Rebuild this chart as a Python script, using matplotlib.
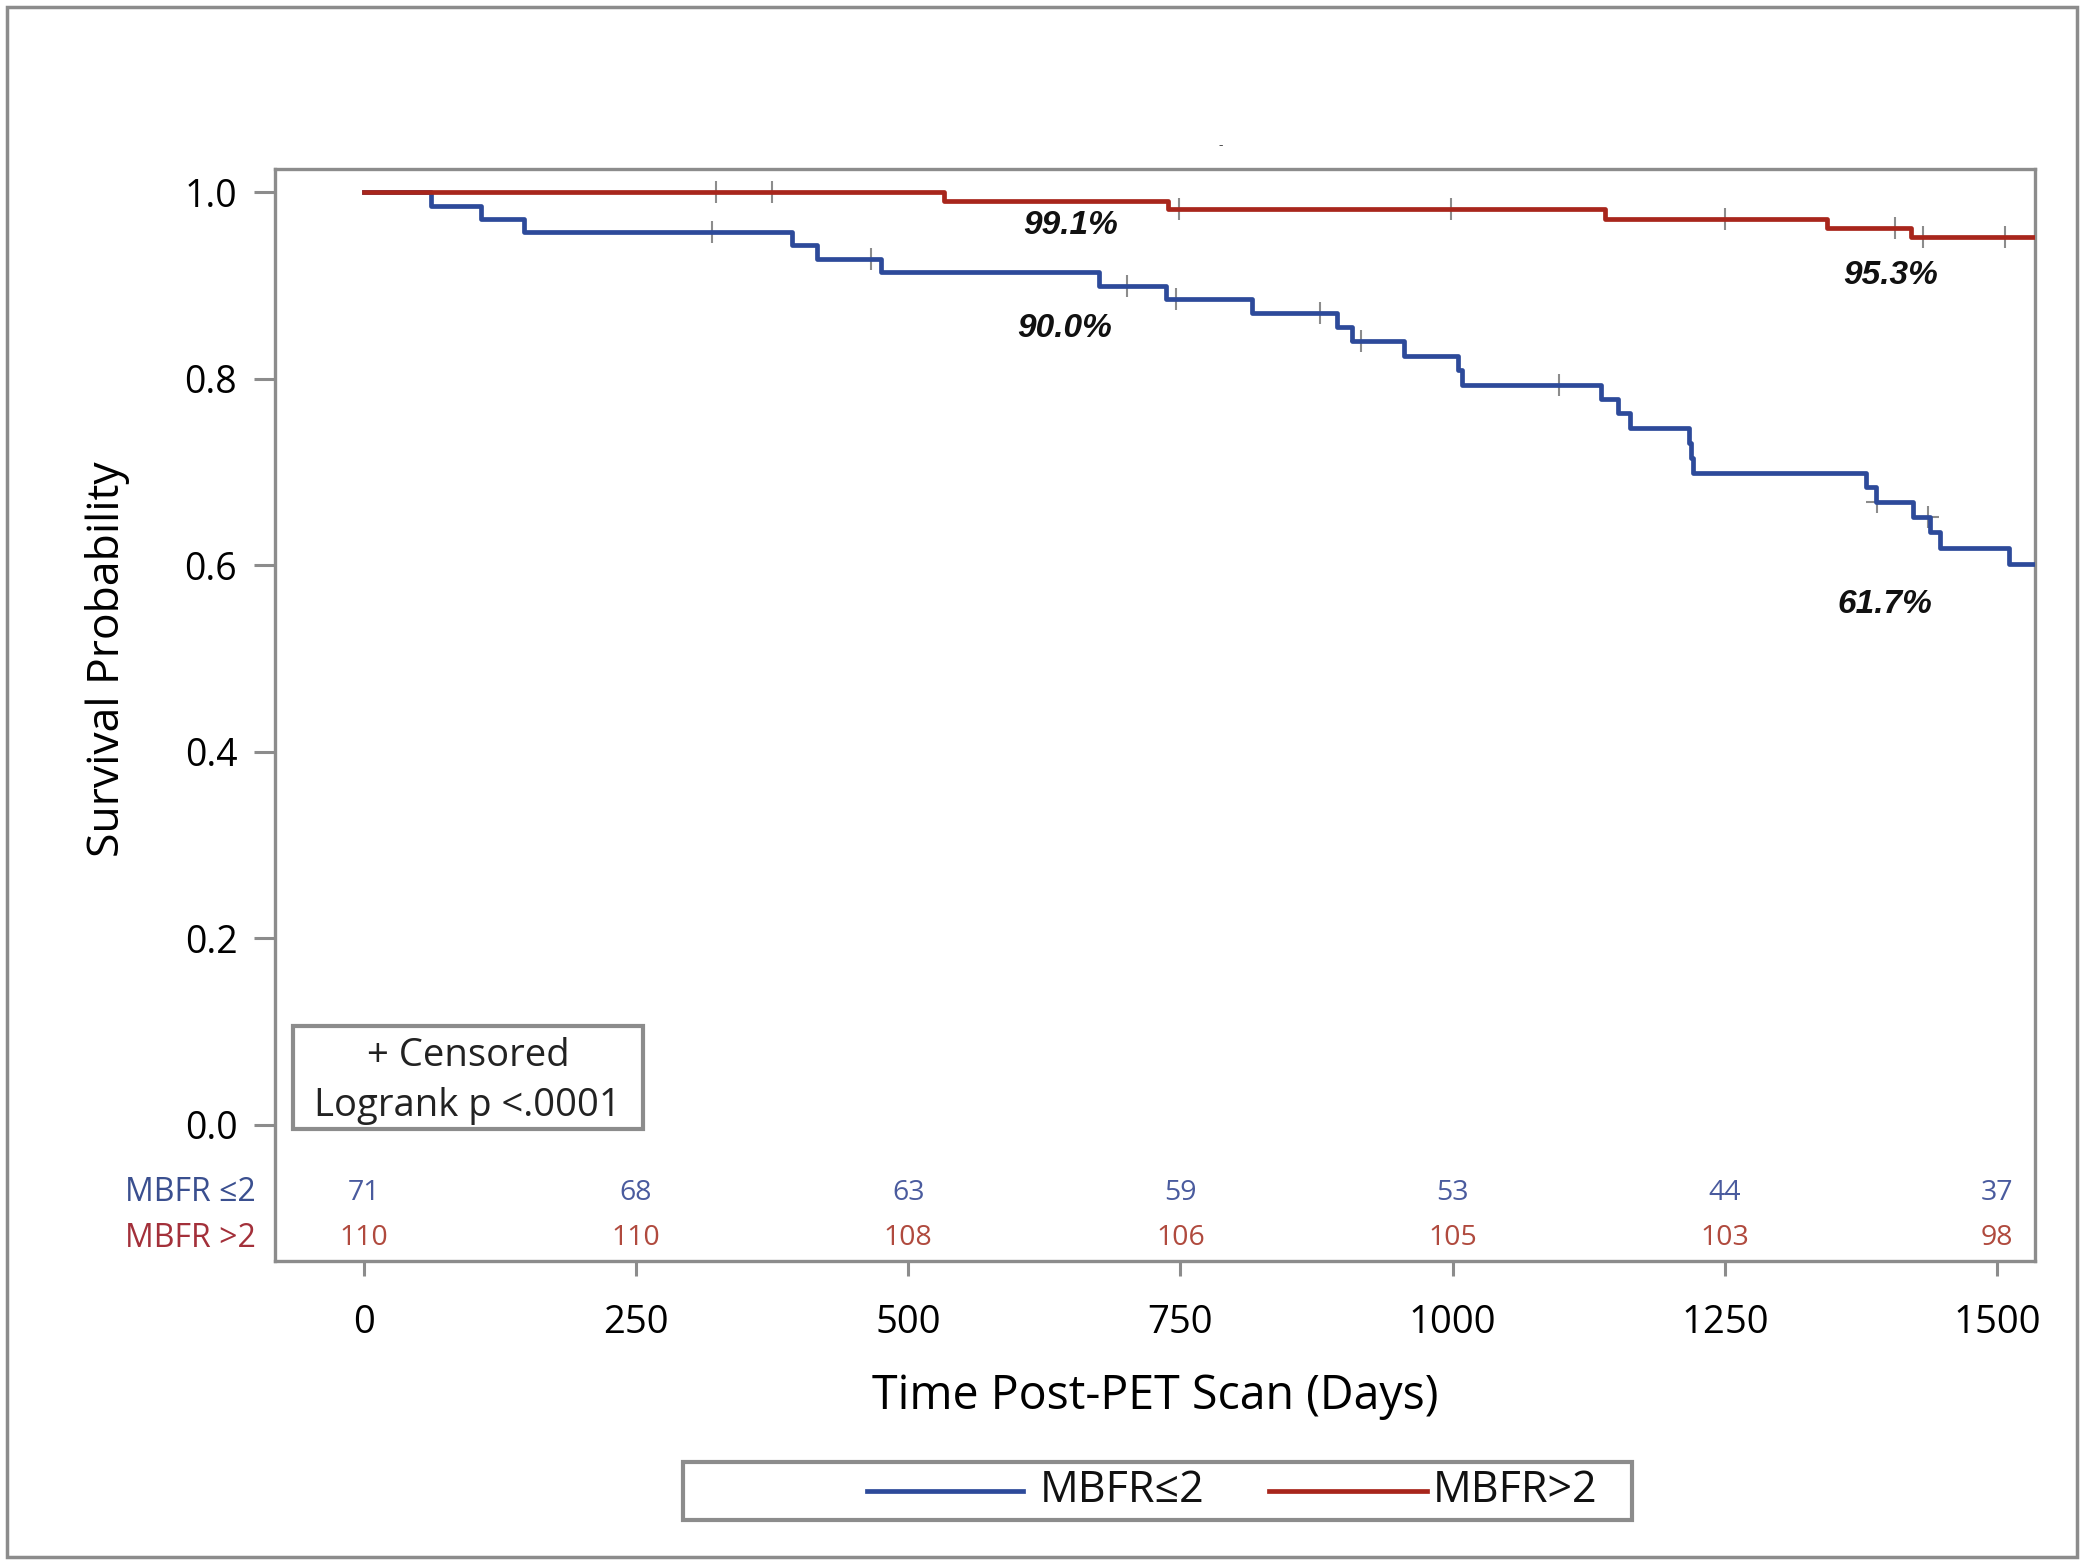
import numpy as np
import matplotlib
matplotlib.use("Agg")
import matplotlib.pyplot as plt
from matplotlib.patches import Rectangle
from matplotlib.lines import Line2D

plt.rcParams['font.family'] = ['Open Sans', 'DejaVu Sans']

# Kaplan-Meier steps (days, survival)
blue_days = [0, 62, 108, 147, 393, 416, 475, 675, 737, 816, 894, 908, 955, 1005, 1009,
             1136, 1152, 1163, 1217, 1219, 1221, 1380, 1389, 1423, 1438, 1448, 1511]
blue_surv = [1.0, 0.986, 0.972, 0.958, 0.944, 0.929, 0.915, 0.900, 0.886, 0.871, 0.856, 0.841,
             0.825, 0.810, 0.794, 0.779, 0.763, 0.747, 0.731, 0.715, 0.699, 0.684, 0.668,
             0.652, 0.636, 0.619, 0.602]
blue_censor = [320, 466, 701, 746, 878, 916, 1098, 1390, 1437]

red_days = [0, 533, 739, 1140, 1344, 1421]
red_surv = [1.0, 0.991, 0.982, 0.972, 0.962, 0.952]
red_censor = [324, 375, 749, 999, 1250, 1406, 1432, 1507]

follow_up_end = 1540

# numbers at risk
risk_days = [0, 250, 500, 750, 1000, 1250, 1500]
blue_risk = [71, 68, 63, 59, 53, 44, 37]
red_risk = [110, 110, 108, 106, 105, 103, 98]

# survival labels: (text, day, survival)
pct_labels = [("99.1%", 649, 0.965), ("90.0%", 644, 0.854),
              ("95.3%", 1402, 0.911), ("61.7%", 1397, 0.558)]

BLUE = '#2d4a9a'
RED = '#a8261c'
GRAY = '#8c8c8c'


def step_value(days, surv, t):
    i = np.searchsorted(days, t, side='right') - 1
    return np.array(surv)[i]


fig = plt.figure(figsize=(20.82, 15.66), dpi=100)
ax = fig.add_axes([0.1320, 0.1948, 0.8456, 0.6976])

for days, surv, cens, col in [(blue_days, blue_surv, blue_censor, BLUE),
                              (red_days, red_surv, red_censor, RED)]:
    ax.step(days + [follow_up_end], surv + [surv[-1]], where='post', color=col, lw=3.4, zorder=3)
    ax.plot(cens, step_value(days, surv, cens), linestyle='none', marker='+',
            markersize=16, mew=1.5, color=GRAY, zorder=2)

for txt, d, s in pct_labels:
    ax.text(d, s, txt, ha='center', va='center', fontsize=24, fontweight='bold',
            fontstyle='italic', family='Liberation Sans', color='#111111')

# censored / logrank box
ax.add_patch(Rectangle((-65, -0.0043), 321.4, 0.1108, fill=False, edgecolor=GRAY, lw=3, zorder=3))
ax.text(95.7, 0.074, "+ Censored", ha='center', va='center', fontsize=27.5, color='#222222')
ax.text(95.7, 0.0205, "Logrank p <.0001", ha='center', va='center', fontsize=27.5, color='#222222')

# at-risk table inside the axes
for d, b, r in zip(risk_days, blue_risk, red_risk):
    ax.text(d, -0.073, str(b), ha='center', va='center', fontsize=20.5, color='#4a5b9e')
    ax.text(d, -0.1215, str(r), ha='center', va='center', fontsize=20.5, color='#b04a3e')
ax.text(-99, -0.073, "MBFR ≤2", ha='right', va='center', fontsize=23, color='#3a4f8f', clip_on=False)
ax.text(-99, -0.1215, "MBFR >2", ha='right', va='center', fontsize=23, color='#a3303a', clip_on=False)

ax.set_xlim(-81.6, 1535.2)
ax.set_ylim(-0.146, 1.0257)
ax.set_xticks(risk_days)
ax.set_yticks([0.0, 0.2, 0.4, 0.6, 0.8, 1.0])
ax.set_yticklabels(['0.0', '0.2', '0.4', '0.6', '0.8', '1.0'])
ax.tick_params(axis='y', length=15, width=2.2, color=GRAY, labelsize=27, pad=12)
ax.tick_params(axis='x', length=11, width=2.2, color=GRAY, labelsize=27.5, pad=20)
for sp in ax.spines.values():
    sp.set_color(GRAY)
    sp.set_linewidth(2.4)

ax.set_ylabel("Survival Probability", fontsize=32, labelpad=32)
ax.yaxis.set_label_coords(-0.082, 0.551)
ax.set_xlabel("Time Post-PET Scan (Days)", fontsize=33.5, labelpad=22)

# legend drawn in figure coordinates
fig.patches.append(Rectangle((0.328, 0.0294), 0.4558, 0.0370, transform=fig.transFigure,
                             fill=False, edgecolor=GRAY, lw=3))
fig.lines.append(Line2D([0.4164, 0.4914], [0.0479, 0.0479], transform=fig.transFigure, color=BLUE, lw=3.4))
fig.text(0.4995, 0.0479, "MBFR≤2", ha='left', va='center', fontsize=31, color='#111111')
fig.lines.append(Line2D([0.6093, 0.6853], [0.0479, 0.0479], transform=fig.transFigure, color=RED, lw=3.4))
fig.text(0.6883, 0.0479, "MBFR>2", ha='left', va='center', fontsize=31, color='#111111')

# outer border
fig.patches.append(Rectangle((0.0034, 0.0057), 0.9942, 0.9898, transform=fig.transFigure,
                             fill=False, edgecolor=GRAY, lw=2.5))
fig.text(0.5865, 0.9068, "-", ha='center', va='center', fontsize=10, color='#555555')

fig.savefig("out.png", dpi=100)
